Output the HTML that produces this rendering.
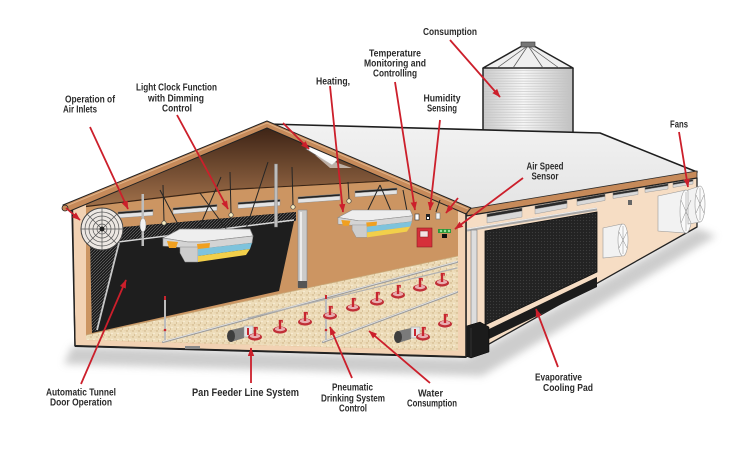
<!DOCTYPE html>
<html><head><meta charset="utf-8">
<style>
html,body{margin:0;padding:0;background:#fff;}
svg{display:block;}
text{font-family:"Liberation Sans",sans-serif;font-weight:bold;fill:#2b2b2b;font-size:10px;}
</style></head><body>
<svg width="730" height="451" viewBox="0 0 730 451" xmlns="http://www.w3.org/2000/svg">
<defs>
 <marker id="ah" markerWidth="9" markerHeight="7" refX="8" refY="3.2" orient="auto" markerUnits="userSpaceOnUse">
  <path d="M0,0 L8.5,3.2 L0,6.4 Z" fill="#cc1f2b"/>
 </marker>
 <linearGradient id="gable" x1="0" y1="0" x2="0" y2="1">
   <stop offset="0" stop-color="#3e2416"/>
   <stop offset="1" stop-color="#a0704a"/>
 </linearGradient>
 <linearGradient id="silo" x1="0" x2="1">
   <stop offset="0" stop-color="#cacaca"/>
   <stop offset="0.45" stop-color="#f6f6f6"/>
   <stop offset="1" stop-color="#c0c0c0"/>
 </linearGradient>
 <linearGradient id="roofg" x1="0" y1="0" x2="0" y2="1">
   <stop offset="0" stop-color="#f2f2f2"/>
   <stop offset="1" stop-color="#e4e4e4"/>
 </linearGradient>
 <pattern id="stripes" width="10" height="2.6" patternUnits="userSpaceOnUse">
   <line x1="0" y1="0.5" x2="10" y2="0.5" stroke="#c4c4c4" stroke-width="0.6"/>
 </pattern>
 <pattern id="floorp" width="6" height="6" patternUnits="userSpaceOnUse">
   <rect width="6" height="6" fill="#eddcb9"/>
   <circle cx="1" cy="1" r="0.7" fill="#c7aa7a"/>
   <circle cx="4" cy="3.5" r="0.7" fill="#fbf3e0"/>
   <circle cx="2.5" cy="5" r="0.5" fill="#b89a6a"/>
   <circle cx="5" cy="0.8" r="0.4" fill="#d4bb8e"/>
 </pattern>
 <pattern id="pad" width="3" height="3" patternUnits="userSpaceOnUse">
   <rect width="3" height="3" fill="#232323"/>
   <circle cx="1.5" cy="1.5" r="0.6" fill="#3c3c3c"/>
 </pattern>
 <pattern id="mesh" width="3" height="3" patternUnits="userSpaceOnUse">
   <rect width="3" height="3" fill="#1a1a1a"/>
   <path d="M0,3 L3,0" stroke="#777" stroke-width="0.6"/>
 </pattern>
 <filter id="blur" x="-20%" y="-50%" width="140%" height="200%"><feGaussianBlur stdDeviation="4"/></filter>
 <g id="pan">
   <ellipse cx="0" cy="0" rx="7" ry="3.6" fill="#c02f37"/>
   <ellipse cx="0" cy="-1" rx="5.2" ry="2.2" fill="#e8aeb0"/>
   <rect x="-1.2" y="-10" width="2.4" height="9" fill="#c8262f"/>
   <path d="M-1.2,-9.5 h3.4 v2.2" stroke="#c8262f" fill="none" stroke-width="1.2"/>
 </g>
 <g id="heater">
   <polygon points="163,238 180,229 250,229 253,236 200,242 188,242" fill="#eeeeee" stroke="#8a8a8a" stroke-width="0.7"/>
   <polygon points="163,238 188,242 200,242 253,236 252,243 200,249 163,246" fill="#d4d4d4" stroke="#8a8a8a" stroke-width="0.6"/>
   <polygon points="167,241 178,242 176,248 169,248" fill="#f0a020"/>
   <polygon points="180,247 198,247 198,262 185,262 180,253" fill="#cdcdcd" stroke="#8a8a8a" stroke-width="0.5"/>
   <polygon points="197,244 210,243 209,251 198,251" fill="#f0a020"/>
   <polygon points="198,249 252,243 250,249 198,256" fill="#7ec3dc"/>
   <polygon points="198,256 250,249 246,255 198,262" fill="#f2cf4a"/>
 </g>
</defs>

<!-- shadow -->
<polygon points="72,346 466,358 697,228 716,236 482,376 64,364" fill="#b8b8b8" filter="url(#blur)" opacity="0.7"/>

<!-- silo -->
<rect x="483" y="68" width="90" height="64" fill="url(#silo)"/>
<rect x="483" y="70" width="90" height="62" fill="url(#stripes)"/>
<line x1="483" y1="68" x2="483" y2="132" stroke="#222" stroke-width="1.5"/>
<line x1="573" y1="68" x2="573" y2="132" stroke="#222" stroke-width="1.5"/>
<polygon points="483,68 522,46 534,46 573,68" fill="#efefef" stroke="#222" stroke-width="1.5" stroke-linejoin="round"/>
<g stroke="#555" stroke-width="0.7">
 <line x1="526" y1="47" x2="497" y2="68"/>
 <line x1="527" y1="47" x2="513" y2="68"/>
 <line x1="529" y1="47" x2="543" y2="68"/>
 <line x1="530" y1="47" x2="559" y2="68"/>
</g>
<rect x="521" y="42" width="14" height="5" fill="#777" stroke="#333" stroke-width="0.6"/>

<!-- roof -->
<polygon points="267,124 600,133 697,172 467,210" fill="url(#roofg)" stroke="#1e1e1e" stroke-width="1.6" stroke-linejoin="round"/>
<!-- side fascia -->
<polygon points="467,209 697,171 697,178 467,216" fill="#c68a5a" stroke="#2a2a2a" stroke-width="0.8"/>
<!-- side wall -->
<polygon points="466,216 697,178 697,227 466,357" fill="#f6ddc4" stroke="#222" stroke-width="1.3" stroke-linejoin="round"/>

<!-- side wall inlets -->
<g stroke="#8a8a8a" stroke-width="0.4">
 <polygon points="487,214 522,208 522,217 487,223" fill="#d9d9d9"/>
 <polygon points="487,214 522,208 522,211 487,217" fill="#2a2a2a"/>
 <polygon points="535,206 567,200.5 567,208 535,214" fill="#d9d9d9"/>
 <polygon points="535,206 567,200.5 567,203.5 535,209" fill="#2a2a2a"/>
 <polygon points="577,199 605,194 605,200.5 577,205.5" fill="#d9d9d9"/>
 <polygon points="577,199 605,194 605,196.5 577,201.5" fill="#2a2a2a"/>
 <polygon points="613,193 638,189 638,194.5 613,198.5" fill="#d9d9d9"/>
 <polygon points="613,193 638,189 638,191.2 613,195.2" fill="#2a2a2a"/>
 <polygon points="645,187.5 668,183.8 668,189 645,192.5" fill="#d9d9d9"/>
 <polygon points="645,187.5 668,183.8 668,185.8 645,189.5" fill="#2a2a2a"/>
 <polygon points="673,183 693,179.5 693,184 673,187.5" fill="#d9d9d9"/>
 <polygon points="673,183 693,179.5 693,181.2 673,184.7" fill="#2a2a2a"/>
</g>
<rect x="628" y="200" width="4" height="5" fill="#666"/>

<!-- cooling pad -->
<polygon points="485,231 597,212 597,272 485,325" fill="url(#pad)" stroke="#111" stroke-width="0.8"/>
<polygon points="487,330 597,277 597,287 487,340" fill="#1c1c1c"/>
<line x1="467" y1="230" x2="597" y2="209" stroke="#a8a8a8" stroke-width="3"/>
<line x1="467" y1="229" x2="597" y2="208" stroke="#eeeeee" stroke-width="1"/>
<rect x="471" y="230" width="6" height="96" fill="#dddddd" stroke="#777" stroke-width="0.6"/>
<polygon points="463,327 480,322 489,327 489,352 471,358 463,355" fill="#1b1b1b" stroke="#000" stroke-width="0.5"/>
<line x1="471" y1="328" x2="471" y2="357" stroke="#444" stroke-width="0.6"/>

<!-- side fans -->
<g stroke="#9a9a9a" stroke-width="0.6">
 <polygon points="603,228 622,224 622,256 603,258" fill="#f2f2f2"/>
 <ellipse cx="623" cy="240" rx="5" ry="16" fill="#fafafa"/>
 <polygon points="658,196 686,190 686,233 658,231" fill="#f2f2f2"/>
 <ellipse cx="686" cy="211.5" rx="6" ry="21.5" fill="#fafafa"/>
 <polygon points="688,190 700,186 700,222 688,224" fill="#f2f2f2"/>
 <ellipse cx="700" cy="204" rx="5" ry="18" fill="#fafafa"/>
</g>
<g stroke="#888" stroke-width="0.5">
 <line x1="623" y1="226" x2="623" y2="254"/><line x1="619" y1="232" x2="627" y2="248"/><line x1="619" y1="248" x2="627" y2="232"/>
 <line x1="686" y1="192" x2="686" y2="231"/><line x1="681" y1="200" x2="691" y2="223"/><line x1="681" y1="223" x2="691" y2="200"/>
 <line x1="700" y1="188" x2="700" y2="220"/><line x1="696" y1="195" x2="704" y2="213"/><line x1="696" y1="213" x2="704" y2="195"/>
</g>

<!-- front face -->
<polygon points="72,209 267,128 466,213 466,357 75,346" fill="#f2d2b3" stroke="#222" stroke-width="1.4" stroke-linejoin="round"/>
<!-- interior back wall -->
<polygon points="86,203.3 267,128 458,210.5 458,351 86,340" fill="#cc9562"/>
<!-- gable underside -->
<polygon points="86,203.3 267,128 389,180.3 230,189 86,206" fill="url(#gable)"/>
<polyline points="86,206.5 230,189.5 389,180.8" fill="none" stroke="#3a2415" stroke-width="1.2"/>
<!-- skylight -->
<polygon points="306,149 313,145 339,159 332,165" fill="#fdfdfd" stroke="#666" stroke-width="0.7"/>
<polygon points="315,155 335,162 352,168 330,168" fill="#f5f5f5" opacity="0.6"/>
<!-- front fascia -->
<polygon points="63,205 267,121 471,208 466,214 267,128 70,211" fill="#c68a5a" stroke="#222" stroke-width="1" stroke-linejoin="round"/>
<line x1="66" y1="206" x2="267" y2="123" stroke="#e0b48a" stroke-width="1"/>
<line x1="267" y1="123" x2="468" y2="209" stroke="#e0b48a" stroke-width="1"/>
<circle cx="65" cy="208" r="3" fill="#c68a5a" stroke="#222" stroke-width="0.8"/>

<!-- back wall inlets -->
<g stroke="#888" stroke-width="0.4">
 <polygon points="118,212 153,209.5 153,215.5 118,218" fill="#e4e4e4"/>
 <polygon points="118,212 153,209.5 153,211.5 118,214" fill="#222"/>
 <polygon points="173,208 217,204.5 217,210.5 173,214" fill="#e4e4e4"/>
 <polygon points="173,208 217,204.5 217,206.5 173,210" fill="#222"/>
 <polygon points="238,202.5 280,199.5 280,205.5 238,208.5" fill="#e4e4e4"/>
 <polygon points="238,202.5 280,199.5 280,201.5 238,204.5" fill="#222"/>
 <polygon points="298,197 340,194 340,200 298,203" fill="#e4e4e4"/>
 <polygon points="298,197 340,194 340,196 298,199" fill="#222"/>
 <polygon points="355,191 397,188 397,194 355,197" fill="#e4e4e4"/>
 <polygon points="355,191 397,188 397,190 355,193" fill="#222"/>
</g>

<!-- floor -->
<polygon points="86,335 458,256 458,351 86,340" fill="url(#floorp)"/>
<line x1="86" y1="335" x2="458" y2="256" stroke="#c9a878" stroke-width="0.8"/>

<!-- curtain -->
<polygon points="90,230 296,212 279,291 92,333" fill="#1e1e1e"/>
<polygon points="90,230 296,212 296,221 118,242 90,244" fill="url(#mesh)"/>
<polygon points="90,240 118,242 98,330 92,332" fill="url(#mesh)"/>
<line x1="97" y1="330" x2="119" y2="243" stroke="#c8c8c8" stroke-width="1.8"/>
<line x1="118" y1="242" x2="294" y2="220" stroke="#d8d8d8" stroke-width="1.4"/>

<!-- hanging wires -->
<g stroke="#262626" stroke-width="1">
 <line x1="163" y1="185" x2="164" y2="221"/>
 <line x1="160" y1="190" x2="181" y2="230"/>
 <line x1="200" y1="193" x2="227" y2="230"/>
 <line x1="221" y1="177" x2="197" y2="233"/>
 <line x1="230" y1="172" x2="231" y2="213"/>
 <line x1="268" y1="162" x2="246" y2="229"/>
 <line x1="292" y1="167" x2="293" y2="205"/>
 <line x1="348" y1="182" x2="349" y2="199"/>
 <line x1="380" y1="185" x2="367" y2="212"/>
 <line x1="380" y1="185" x2="391" y2="211"/>
 <line x1="403" y1="190" x2="407" y2="211"/>
 <line x1="440" y1="200" x2="436" y2="212"/>
</g>
<!-- lights -->
<g fill="#f6ebc0" stroke="#444" stroke-width="0.7">
 <circle cx="164" cy="223" r="2.2"/>
 <circle cx="231" cy="215" r="2.2"/>
 <circle cx="293" cy="207" r="2.2"/>
 <circle cx="349" cy="201" r="2.2"/>
</g>
<!-- rods -->
<rect x="141.5" y="194" width="2.5" height="52" fill="#bdbdbd"/>
<ellipse cx="143" cy="225" rx="3" ry="7" fill="#f2f2f2" stroke="#888" stroke-width="0.5"/>
<rect x="274.5" y="164" width="3" height="63" fill="#bdbdbd" stroke="#888" stroke-width="0.4"/>

<!-- fan left -->
<g>
 <circle cx="102" cy="229" r="21" fill="#ece7e2" stroke="#444" stroke-width="1"/>
 <g fill="none" stroke="#555" stroke-width="0.7">
  <circle cx="102" cy="229" r="17"/><circle cx="102" cy="229" r="13"/><circle cx="102" cy="229" r="9"/><circle cx="102" cy="229" r="5"/>
  <line x1="81" y1="229" x2="123" y2="229"/><line x1="102" y1="208" x2="102" y2="250"/>
  <line x1="87" y1="214" x2="117" y2="244"/><line x1="87" y1="244" x2="117" y2="214"/>
 </g>
 <circle cx="102" cy="229" r="2.5" fill="#222"/>
</g>

<!-- heaters -->
<use href="#heater"/>
<use href="#heater" transform="translate(338,210) scale(0.83) translate(-163,-229)"/>

<!-- flue pipe -->
<rect x="298" y="210" width="9" height="77" fill="#cbcbcb" stroke="#888" stroke-width="0.6"/>
<rect x="300" y="212" width="2" height="72" fill="#ececec"/>
<rect x="298" y="281" width="9" height="7" fill="#555"/>

<!-- controls -->
<rect x="415" y="214" width="4" height="6" fill="#fff" stroke="#333" stroke-width="0.6"/>
<rect x="426" y="214" width="4" height="6" fill="#222"/>
<rect x="427" y="217" width="2" height="2" fill="#fff"/>
<rect x="436" y="213" width="4" height="6" fill="#f4f4f4" stroke="#777" stroke-width="0.6"/>
<rect x="417" y="228" width="15" height="19" fill="#d6303a" stroke="#8a1a20" stroke-width="0.6"/>
<rect x="420" y="231" width="8" height="6" fill="#f3e3e3" stroke="#7a1a1a" stroke-width="0.5"/>
<rect x="438" y="229" width="13" height="4" fill="#2a9a3a"/>
<circle cx="441" cy="231" r="1.2" fill="#9be09b"/><circle cx="445" cy="231" r="1.2" fill="#9be09b"/><circle cx="449" cy="231" r="1.2" fill="#9be09b"/>
<rect x="442" y="234" width="5" height="4" fill="#111"/>

<!-- feeder / drinker lines -->
<g stroke-linecap="round">
 <line x1="163" y1="342" x2="457" y2="262" stroke="#9e9e9e" stroke-width="2.2"/>
 <line x1="163" y1="341.5" x2="457" y2="261.5" stroke="#efefef" stroke-width="0.7"/>
 <line x1="323" y1="342" x2="457" y2="292" stroke="#9e9e9e" stroke-width="2.2"/>
 <line x1="323" y1="341.5" x2="457" y2="291.5" stroke="#efefef" stroke-width="0.7"/>
 <line x1="248" y1="318" x2="457" y2="268" stroke="#b0b0b0" stroke-width="1.2"/>
</g>
<!-- posts -->
<line x1="165" y1="297" x2="165" y2="340" stroke="#bdbdbd" stroke-width="2"/>
<rect x="164" y="296" width="2" height="4" fill="#c8262f"/>
<circle cx="165" cy="330" r="1.3" fill="#c8262f"/>
<line x1="326" y1="296" x2="326" y2="340" stroke="#bdbdbd" stroke-width="2"/>
<rect x="325" y="295" width="2" height="4" fill="#c8262f"/>
<circle cx="326" cy="330" r="1.3" fill="#c8262f"/>

<!-- pans -->
<use href="#pan" x="280" y="330"/>
<use href="#pan" x="305" y="322"/>
<use href="#pan" x="330" y="316"/>
<use href="#pan" x="353" y="308"/>
<use href="#pan" x="377" y="302"/>
<use href="#pan" x="398" y="295"/>
<use href="#pan" x="420" y="288"/>
<use href="#pan" x="442" y="283"/>
<use href="#pan" x="445" y="324"/>
<!-- motors -->
<g>
 <polygon points="231,330 244,327 244,338 231,342" fill="#7a7a7a"/>
 <ellipse cx="231" cy="336" rx="4" ry="6" fill="#3e3e3e"/>
 <rect x="244" y="326" width="9" height="11" fill="#e4e4e4" stroke="#999" stroke-width="0.5"/>
 <rect x="247" y="328" width="2" height="7" fill="#c8262f"/>
 <use href="#pan" x="255" y="337"/>
</g>
<g>
 <polygon points="398,331 411,328 411,339 398,343" fill="#7a7a7a"/>
 <ellipse cx="398" cy="337" rx="4" ry="6" fill="#3e3e3e"/>
 <rect x="411" y="327" width="9" height="11" fill="#e4e4e4" stroke="#999" stroke-width="0.5"/>
 <rect x="414" y="329" width="2" height="7" fill="#c8262f"/>
 <use href="#pan" x="423" y="337"/>
</g>

<!-- front edges -->
<line x1="75" y1="346" x2="466" y2="357" stroke="#222" stroke-width="2"/>
<line x1="72.5" y1="210" x2="75" y2="346" stroke="#222" stroke-width="1.3"/>
<line x1="466" y1="213" x2="466" y2="357" stroke="#222" stroke-width="1.2"/>
<rect x="185" y="346" width="15" height="3" fill="#888"/>

<!-- arrows -->
<g stroke="#cc1f2b" stroke-width="1.8" fill="none" marker-end="url(#ah)">
 <line x1="450" y1="40" x2="500" y2="97"/>
 <line x1="395" y1="82" x2="415" y2="210"/>
 <line x1="330" y1="86" x2="343" y2="212"/>
 <line x1="440" y1="120" x2="430" y2="210"/>
 <line x1="523" y1="178" x2="455" y2="229"/>
 <line x1="679" y1="132" x2="688" y2="187"/>
 <line x1="283" y1="123" x2="309" y2="149"/>
 <line x1="90" y1="127" x2="128" y2="209"/>
 <line x1="66" y1="208" x2="80" y2="220"/>
 <line x1="177" y1="115" x2="228" y2="209"/>
 <line x1="81" y1="384" x2="126" y2="280"/>
 <line x1="251" y1="383" x2="251" y2="348"/>
 <line x1="352" y1="378" x2="330" y2="327"/>
 <line x1="430" y1="383" x2="369" y2="331"/>
 <line x1="558" y1="367" x2="536" y2="309"/>
 <line x1="458" y1="198" x2="446" y2="213"/>
</g>

<!-- labels -->
<g text-anchor="middle">
 <text x="450" y="35" textLength="54" lengthAdjust="spacingAndGlyphs">Consumption</text>
 <text x="395" y="56.5" textLength="52" lengthAdjust="spacingAndGlyphs">Temperature</text>
 <text x="395" y="66.5" textLength="62" lengthAdjust="spacingAndGlyphs">Monitoring and</text>
 <text x="395" y="76.5" textLength="44" lengthAdjust="spacingAndGlyphs">Controlling</text>
 <text x="333" y="84.5" textLength="34" lengthAdjust="spacingAndGlyphs">Heating,</text>
 <text x="442" y="101.5" textLength="37" lengthAdjust="spacingAndGlyphs">Humidity</text>
 <text x="442" y="111.5" textLength="30" lengthAdjust="spacingAndGlyphs">Sensing</text>
 <text x="679" y="127.5" textLength="18" lengthAdjust="spacingAndGlyphs">Fans</text>
 <text x="545" y="169.5" textLength="37" lengthAdjust="spacingAndGlyphs">Air Speed</text>
 <text x="545" y="179.5" textLength="27" lengthAdjust="spacingAndGlyphs">Sensor</text>
 <text x="90" y="102.5" textLength="50" lengthAdjust="spacingAndGlyphs">Operation of</text>
 <text x="80" y="112.5" textLength="34" lengthAdjust="spacingAndGlyphs">Air Inlets</text>
 <text x="176.5" y="90.5" textLength="81" lengthAdjust="spacingAndGlyphs">Light Clock Function</text>
 <text x="176" y="101.5" textLength="56" lengthAdjust="spacingAndGlyphs">with Dimming</text>
 <text x="177" y="111.5" textLength="30" lengthAdjust="spacingAndGlyphs">Control</text>
 <text x="81" y="395.5" textLength="70" lengthAdjust="spacingAndGlyphs">Automatic Tunnel</text>
 <text x="81" y="405.5" textLength="62" lengthAdjust="spacingAndGlyphs">Door Operation</text>
 <text x="245.5" y="396" textLength="107" lengthAdjust="spacingAndGlyphs" style="font-size:11px">Pan Feeder Line System</text>
 <text x="352.5" y="390.5" textLength="41" lengthAdjust="spacingAndGlyphs">Pneumatic</text>
 <text x="353" y="401.5" textLength="64" lengthAdjust="spacingAndGlyphs">Drinking System</text>
 <text x="353" y="411.5" textLength="28" lengthAdjust="spacingAndGlyphs">Control</text>
 <text x="430.5" y="396.5" textLength="25" lengthAdjust="spacingAndGlyphs">Water</text>
 <text x="432" y="406.5" textLength="50" lengthAdjust="spacingAndGlyphs">Consumption</text>
 <text x="558.5" y="380.5" textLength="47" lengthAdjust="spacingAndGlyphs">Evaporative</text>
 <text x="568" y="391" textLength="50" lengthAdjust="spacingAndGlyphs">Cooling Pad</text>
</g>
</svg>
</body></html>
